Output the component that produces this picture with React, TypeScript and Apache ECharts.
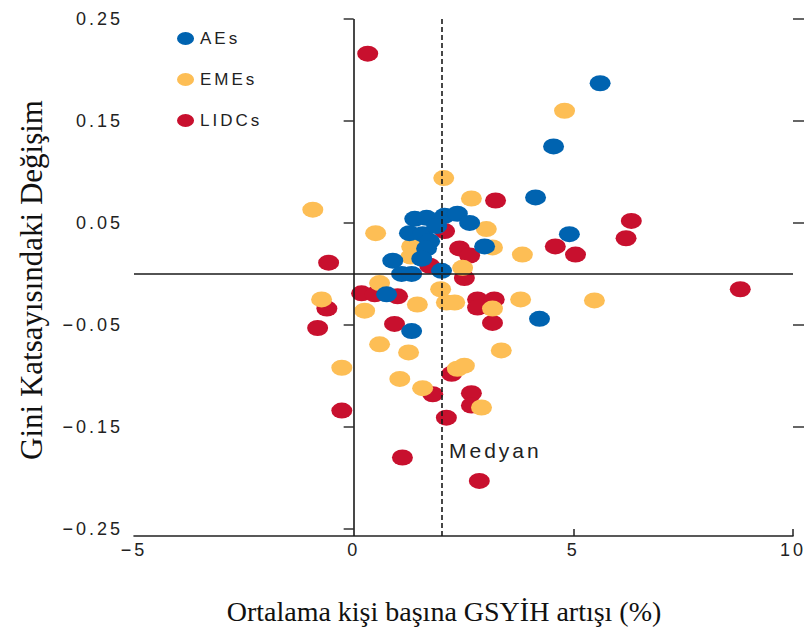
import React, { useEffect, useRef } from "react";
import * as echarts from "echarts";

// ---- data ----
const seriesNames = ["AEs", "EMEs", "LIDCs"];
const xTickValues = [-5, 0, 5, 10];
const xTickMarks = [5, 10];
const yTickValues = [0.25, 0.15, 0.05, -0.05, -0.15, -0.25];
const yRightTicks = [0.25, 0.15, 0.05, -0.05, -0.15];
const medianGrowth = 2.0;

const aes: number[][] = [
  [5.61, 0.187], [4.55, 0.125], [4.14, 0.075], [4.91, 0.039], [4.23, -0.044],
  [2.98, 0.027], [1.32, -0.056], [0.75, -0.02], [1.39, 0.054], [1.66, 0.055],
  [2.07, 0.057], [2.36, 0.059], [2.64, 0.05], [1.27, 0.04], [1.57, 0.039],
  [1.89, 0.047], [1.73, 0.032], [1.66, 0.025], [1.55, 0.015], [0.89, 0.013],
  [1.09, 0.0], [1.32, 0.0], [2.0, 0.003],
];

const emes: number[][] = [
  [4.8, 0.16], [2.05, 0.094], [2.68, 0.074], [-0.93, 0.063], [0.5, 0.04],
  [3.02, 0.044], [3.16, 0.026], [3.84, 0.019], [2.48, 0.006], [1.32, 0.027],
  [1.3, 0.017], [0.59, -0.009], [1.98, -0.015], [-0.73, -0.025], [0.25, -0.036],
  [1.45, -0.03], [2.11, -0.028], [2.3, -0.028], [3.8, -0.025], [3.16, -0.034],
  [5.48, -0.026], [0.59, -0.069], [1.25, -0.077], [3.36, -0.075], [-0.27, -0.092],
  [1.05, -0.103], [1.57, -0.112], [2.36, -0.093], [2.52, -0.09], [2.91, -0.131],
];

const lidcs: number[][] = [
  [0.32, 0.216], [3.23, 0.072], [6.32, 0.052], [6.2, 0.035], [4.59, 0.027],
  [5.05, 0.019], [8.8, -0.015], [-0.57, 0.011], [2.07, 0.042], [2.41, 0.025],
  [2.64, 0.018], [1.73, 0.008], [2.52, -0.004], [0.18, -0.019], [0.48, -0.02],
  [1.0, -0.022], [-0.61, -0.034], [-0.82, -0.053], [0.93, -0.049], [2.82, -0.025],
  [3.2, -0.025], [2.82, -0.033], [3.16, -0.048], [2.23, -0.098], [2.68, -0.117],
  [2.68, -0.129], [1.8, -0.118], [-0.27, -0.134], [2.11, -0.141], [1.11, -0.18],
  [2.86, -0.203],
];

const colors = { AEs: "#0063B0", EMEs: "#FDBE55", LIDCs: "#C8102E" };

const ELLIPSE = "path://M0,8A10.5,8 0 1,1 21,8A10.5,8 0 1,1 0,8Z";
const SANS = "Liberation Sans, Arial, sans-serif";
const SERIF = "Liberation Serif, Times New Roman, serif";

const fmt = (v: number, d: number) =>
  v < 0 ? "\u2212" + Math.abs(v).toFixed(d) : v.toFixed(d);

export default function App() {
  const ref = useRef<HTMLDivElement>(null);

  useEffect(() => {
    if (!ref.current) return;
    const chart = echarts.init(ref.current, undefined, { renderer: "svg" });

    const scatter = (name: string, data: number[][], extra: any = {}) => ({
      name,
      type: "scatter",
      data,
      symbol: ELLIPSE,
      symbolSize: [21, 16],
      itemStyle: { color: (colors as any)[name], opacity: 1 },
      emphasis: { disabled: true },
      ...extra,
    });

    chart.setOption({
      animation: false,
      backgroundColor: "#ffffff",
      grid: { left: 134, right: 12, top: 19, bottom: 101, containLabel: false },
      legend: {
        data: seriesNames,
        orient: "vertical",
        left: 172,
        top: 25,
        itemWidth: 19,
        itemHeight: 13,
        itemGap: 24,
        icon: ELLIPSE,
        selectedMode: false,
        textStyle: { fontSize: 17, color: "#222", fontFamily: SANS },
      },
      xAxis: {
        type: "value",
        min: -5,
        max: 10,
        interval: 5,
        axisLine: { show: true, onZero: false, lineStyle: { color: "#222", width: 1.6 } },
        axisTick: {
          show: true,
          inside: true,
          length: 7,
          customValues: xTickMarks,
          lineStyle: { color: "#222", width: 1.5 },
        },
        axisLabel: {
          customValues: xTickValues,
          margin: 5,
          fontSize: 18,
          color: "#222",
          fontFamily: SANS,
          formatter: (v: number) => fmt(v, 0),
        },
        splitLine: { show: false },
      },
      yAxis: [
        {
          type: "value",
          min: -0.257,
          max: 0.25,
          position: "left",
          axisLine: { show: false },
          axisTick: {
            show: true,
            length: 10,
            customValues: yTickValues,
            lineStyle: { color: "#333", width: 1.5 },
          },
          axisLabel: {
            customValues: yTickValues,
            margin: 11,
            fontSize: 18,
            color: "#222",
            fontFamily: SANS,
            formatter: (v: number) => fmt(v, 2),
          },
          splitLine: { show: false },
        },
        {
          type: "value",
          min: -0.257,
          max: 0.25,
          position: "right",
          axisLine: { show: false },
          axisTick: {
            show: true,
            length: 11,
            customValues: yRightTicks,
            lineStyle: { color: "#333", width: 1.5 },
          },
          axisLabel: { show: false },
          splitLine: { show: false },
        },
      ],
      series: [
        scatter("LIDCs", lidcs),
        scatter("EMEs", emes),
        scatter("AEs", aes, {
          markLine: {
            silent: true,
            symbol: ["none", "none"],
            label: { show: false },
            emphasis: { disabled: true },
            lineStyle: { color: "#1a1a1a", width: 1.6, type: "solid" },
            data: [
              { xAxis: 0 },
              { yAxis: 0 },
              { xAxis: medianGrowth, lineStyle: { type: [5, 3], width: 1.6, color: "#1a1a1a" } },
            ],
          },
        }),
      ],
      graphic: [
        {
          type: "text",
          x: 449,
          y: 450,
          style: {
            text: "Medyan",
            textAlign: "left",
            textVerticalAlign: "middle",
            fontSize: 21,
            fontFamily: SANS,
            fill: "#222",
          },
        },
        {
          type: "text",
          x: 444,
          y: 611,
          style: {
            text: "Ortalama kişi başına GSYİH artışı (%)",
            textAlign: "center",
            textVerticalAlign: "middle",
            fontSize: 28,
            fontFamily: SERIF,
            fill: "#111",
          },
        },
        {
          type: "text",
          x: 31,
          y: 280,
          rotation: Math.PI / 2,
          style: {
            text: "Gini Katsayısındaki Değişim",
            textAlign: "center",
            textVerticalAlign: "middle",
            fontSize: 31,
            fontFamily: SERIF,
            fill: "#111",
          },
        },
      ],
    });

    return () => chart.dispose();
  }, []);

  return (
    <>
      <style>{`
        #gini-chart text { letter-spacing: 3px; }
        #gini-chart text[style*="Serif"], #gini-chart text[font-family*="Serif"] { letter-spacing: 0; }
      `}</style>
      <div
        id="gini-chart"
        ref={ref}
        style={{ position: "fixed", left: 0, top: 0, width: 806, height: 637, background: "#fff" }}
      />
    </>
  );
}
